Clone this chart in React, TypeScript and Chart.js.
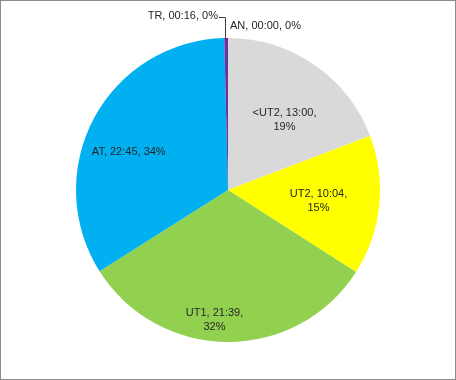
import React, { useEffect, useRef } from "react";
import { Chart, registerables } from "chart.js";

Chart.register(...registerables);

const categories = ["AN", "<UT2", "UT2", "UT1", "AT", "TR"];
const timeLabels = ["00:00", "13:00", "10:04", "21:39", "22:45", "00:16"];
const minutes = [0, 780, 604, 1299, 1365, 16];
const percentLabels = ["0%", "19%", "15%", "32%", "34%", "0%"];
const colors = ["#4472C4", "#D9D9D9", "#FFFF00", "#92D050", "#00B0F0", "#7030A0"];

// label placement (style): radial fraction and angular offset (deg)
const labelFrac = [0, 0.59, 0.6, 0.86, 0.7, 0];
const labelDAngle = [0, 4.5, 1.2, 5.8, -7, 0];

const FONT = "11px 'Liberation Sans', Arial, sans-serif";

const labelPlugin = {
  id: "pieLabels",
  afterDraw(chart: any) {
    const ctx = chart.ctx;
    const meta = chart.getDatasetMeta(0);
    ctx.save();
    ctx.font = FONT;
    ctx.fillStyle = "#262626";
    ctx.textBaseline = "middle";
    meta.data.forEach((arc: any, i: number) => {
      const { x, y, startAngle, endAngle, outerRadius } = arc.getProps(
        ["x", "y", "startAngle", "endAngle", "outerRadius"],
        true
      );
      if (i === 0) {
        ctx.textAlign = "left";
        ctx.fillText(`${categories[i]}, ${timeLabels[i]}, ${percentLabels[i]}`, x + 2, y - outerRadius - 12);
        return;
      }
      if (i === 5) {
        const mid = (startAngle + endAngle) / 2;
        const px = x + Math.cos(mid) * outerRadius;
        const py = y + Math.sin(mid) * outerRadius;
        ctx.strokeStyle = "#404040";
        ctx.lineWidth = 1;
        ctx.beginPath();
        ctx.moveTo(Math.round(px) - 0.5, py);
        ctx.lineTo(Math.round(px) - 0.5, py - 20.5);
        ctx.lineTo(Math.round(px) - 7, py - 20.5);
        ctx.stroke();
        ctx.textAlign = "right";
        ctx.fillText(`${categories[i]}, ${timeLabels[i]}, ${percentLabels[i]}`, Math.round(px) - 8, py - 22);
        return;
      }
      const mid = (startAngle + endAngle) / 2 + (labelDAngle[i] * Math.PI) / 180;
      const r = outerRadius * labelFrac[i];
      const lx = x + Math.cos(mid) * r;
      const ly = y + Math.sin(mid) * r;
      ctx.textAlign = "center";
      if (i === 4) {
        ctx.fillText(`${categories[i]}, ${timeLabels[i]}, ${percentLabels[i]}`, lx, ly);
      } else {
        ctx.fillText(`${categories[i]}, ${timeLabels[i]},`, lx, ly - 7);
        ctx.fillText(percentLabels[i], lx, ly + 7);
      }
    });
    ctx.strokeStyle = "#8C8C8C";
    ctx.lineWidth = 1;
    ctx.strokeRect(0.5, 0.5, chart.width - 1, chart.height - 1);
    ctx.restore();
  },
};

export default function App() {
  const ref = useRef<HTMLCanvasElement | null>(null);
  useEffect(() => {
    document.body.style.margin = "0";
    const chart = new Chart(ref.current as HTMLCanvasElement, {
      type: "pie",
      data: {
        labels: categories,
        datasets: [
          {
            data: minutes,
            backgroundColor: colors,
            borderWidth: 0,
          },
        ],
      },
      options: {
        animation: false,
        responsive: false,
        layout: { padding: { top: 38, bottom: 38, left: 0, right: 0 } },
        plugins: { legend: { display: false }, tooltip: { enabled: false } },
      },
      plugins: [labelPlugin],
    });
    return () => chart.destroy();
  }, []);
  return (
    <div style={{ width: 456, height: 380, background: "#fff" }}>
      <canvas ref={ref} width={456} height={380} style={{ display: "block" }} />
    </div>
  );
}
